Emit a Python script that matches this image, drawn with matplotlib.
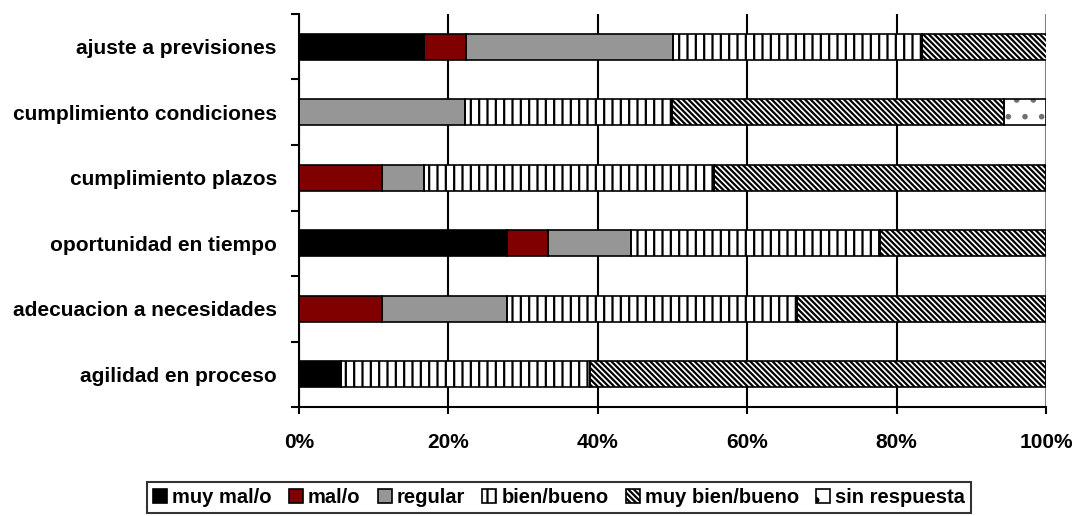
import matplotlib.pyplot as plt
import numpy as np

plt.rcParams.update({'font.family': ['Liberation Sans', 'DejaVu Sans'],
                     'font.weight': 'bold', 'font.size': 15,
                     'hatch.linewidth': 1.6})

categories = ["agilidad en proceso", "adecuacion a necesidades",
              "oportunidad en tiempo", "cumplimiento plazos",
              "cumplimiento condiciones", "ajuste a previsiones"]
series = ["muy mal/o", "mal/o", "regular", "bien/bueno",
          "muy bien/bueno", "sin respuesta"]

# shares per category (bottom to top), in percent
muy_mal = [5.6, 0.0, 27.8, 0.0, 0.0, 16.7]
mal = [0.0, 11.1, 5.6, 11.1, 0.0, 5.6]
regular = [0.0, 16.7, 11.1, 5.6, 22.2, 27.8]
bien = [33.3, 38.9, 33.3, 38.9, 27.8, 33.3]
muy_bien = [61.1, 33.3, 22.2, 44.4, 44.4, 16.7]
sin_resp = [0.0, 0.0, 0.0, 0.0, 5.6, 0.0]

values = [muy_mal, mal, regular, bien, muy_bien, sin_resp]
faces = ["black", "#800000", "#969696", "white", "white", "white"]
hatches = [None, None, None, "||", "\\\\\\\\\\\\", "."]
hatch_cols = ["black", "black", "black", "black", "black", "#707070"]

fig = plt.figure(figsize=(10.77, 5.16), dpi=100)
ax = fig.add_axes([0.2776, 0.2112, 0.6936, 0.7617])

y = np.arange(len(categories))
left = np.zeros(len(categories))
for vals, fc, h, hc, name in zip(values, faces, hatches, hatch_cols, series):
    vals = np.array(vals)
    # fill + hatch first (hatch takes the edge colour), then a black outline
    ax.barh(y, vals, left=left, height=0.4, color=fc, edgecolor=hc,
            linewidth=0, hatch=h, zorder=3)
    ax.barh(y, vals, left=left, height=0.4, fill=False, edgecolor="black",
            linewidth=1.2, zorder=4)
    left += vals

ax.set_xlim(0, 100)
ax.set_ylim(-0.5, len(categories) - 0.5)
ax.set_xticks(np.arange(0, 101, 20))
ax.set_xticklabels(["%d%%" % v for v in range(0, 101, 20)])
ax.xaxis.grid(True, color="black", linewidth=1.5, zorder=0)
ax.get_xgridlines()[-1].set_color("#808080")
ax.set_axisbelow(True)

ax.set_yticks(np.arange(-0.5, len(categories), 1.0))
ax.set_yticklabels([])
ax.set_yticks(y, minor=True)
ax.set_yticklabels(categories, minor=True)
ax.tick_params(axis="y", which="minor", length=0, pad=16)
ax.tick_params(axis="y", which="major", length=6, width=1.5)
ax.tick_params(axis="x", length=5, width=1.5, pad=14)

for s in ["top", "right"]:
    ax.spines[s].set_visible(False)
for s in ["left", "bottom"]:
    ax.spines[s].set_linewidth(1.5)

# legend handles: same fills/hatches with black outline
handles = [plt.Rectangle((0, 0), 1, 1, facecolor=fc, edgecolor="black",
                         hatch=h, linewidth=1.2)
           for fc, h in zip(faces, hatches)]
leg = fig.legend(handles, series, loc="lower center",
                 bbox_to_anchor=(0.519, 0.0), ncol=6,
                 frameon=True, fancybox=False, edgecolor="black",
                 handlelength=0.7, handleheight=0.7, handletextpad=0.25,
                 columnspacing=0.85, borderpad=0.3, borderaxespad=0.15,
                 fontsize=14.5)
leg.get_frame().set_linewidth(1.5)

fig.savefig("out.png", dpi=100)
